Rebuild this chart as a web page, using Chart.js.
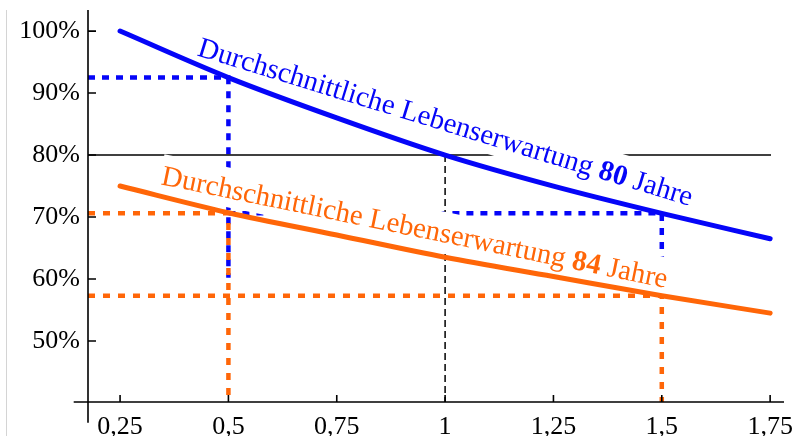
<!DOCTYPE html>
<html>
<head>
<meta charset="utf-8">
<script src="https://cdn.jsdelivr.net/npm/chart.js@4.4.1/dist/chart.umd.min.js"></script>
<style>
  html, body { margin: 0; padding: 0; background: #fff; }
  #wrap { position: relative; width: 795px; height: 436px; }
  #edge { position: absolute; left: 6px; top: 10px; width: 1px; height: 426px; background: #d4d4d4; }
</style>
</head>
<body>
<div id="wrap">
  <canvas id="chart" width="795" height="436"></canvas>
  <div id="edge"></div>
</div>
<script>
// values
const xValues = [0.25, 0.5, 0.75, 1, 1.25, 1.5, 1.75];
const blueValues = [100, 92.5, 86.0, 80, 75.0, 70.6, 66.5];
const orangeValues = [75, 70.7, 67.1, 63.5, 60.4, 57.3, 54.5];
const xTickValues = [0.25, 0.5, 0.75, 1, 1.25, 1.5, 1.75];
const xTickLabels = ["0,25", "0,5", "0,75", "1", "1,25", "1,5", "1,75"];
const yTickValues = [50, 60, 70, 80, 90, 100];

const xMin = 0.176, xMax = 1.782;
const yMin = 40.16, yMax = 103.4;

// guide lines (x, y pairs in data units)
const blueGuideA = [[xMin, 92.5], [0.5, 92.5], [0.5, 60.2]];
const blueGuideB = [[0.5, 70.6], [1.5, 70.6], [1.5, 63.4]];
const orangeGuideA = [[xMin, 70.6], [0.5, 70.6], [0.5, yMin]];
const orangeGuideB = [[xMin, 57.3], [1.5, 57.3], [1.5, yMin]];
const line80 = [[xMin, 80], [1.752, 80]];
const drop1 = [[1, 80], [1, yMin]];

const BLUE = "#0505f8";
const ORANGE = "#ff6608";

const labels = [
  { x: 0.426, y: 96.1, angle: 17.0, color: BLUE, parts: ["Durchschnittliche Lebenserwartung ", "80", " Jahre"] },
  { x: 0.343, y: 75.3, angle: 11.6, color: ORANGE, parts: ["Durchschnittliche Lebenserwartung ", "84", " Jahre"] }
];

function pts(arr) {
  return arr.map(p => ({ x: p[0], y: p[1] }));
}

function guide(arr, color, width, dash, order) {
  return {
    data: pts(arr),
    borderColor: color,
    borderWidth: width,
    borderDash: dash,
    pointRadius: 0,
    tension: 0,
    fill: false,
    order: order
  };
}

const FONT = "'Liberation Serif', 'Times New Roman', serif";

const axesPlugin = {
  id: "axes",
  beforeDatasetDraw(chart, args) {
    if (args.index !== 1) return;
    // text labels with white background, drawn below the curves
    const ctx = chart.ctx;
    const xs = chart.scales.x, ys = chart.scales.y;
    const size = 28.8;
    labels.forEach(l => {
      const px = xs.getPixelForValue(l.x);
      const py = ys.getPixelForValue(l.y);
      ctx.save();
      ctx.translate(px, py);
      ctx.rotate(l.angle * Math.PI / 180);
      const fonts = [size + "px " + FONT, "bold " + size + "px " + FONT, size + "px " + FONT];
      let widths = l.parts.map((t, i) => { ctx.font = fonts[i]; return ctx.measureText(t).width; });
      let total = widths.reduce((a, b) => a + b, 0);
      ctx.fillStyle = "#fff";
      ctx.fillRect(-2, -size * 1.05, total + 4, size * 1.37);
      ctx.fillStyle = l.color;
      ctx.textBaseline = "alphabetic";
      let cx = 0;
      l.parts.forEach((t, i) => {
        ctx.font = fonts[i];
        ctx.fillText(t, cx, 0);
        cx += widths[i];
      });
      ctx.restore();
    });
  },
  afterDraw(chart) {
    const ctx = chart.ctx;
    const xs = chart.scales.x, ys = chart.scales.y;
    const x0 = xs.getPixelForValue(xMin);
    const y0 = ys.getPixelForValue(yMin);
    ctx.save();
    ctx.strokeStyle = "#000";
    ctx.lineWidth = 1.6;
    ctx.beginPath();
    // x axis, a bit past the y axis on the left
    ctx.moveTo(xs.getPixelForValue(0.143), y0);
    ctx.lineTo(xs.getPixelForValue(xMax), y0);
    // y axis, a bit below the x axis
    ctx.moveTo(x0, ys.getPixelForValue(yMax));
    ctx.lineTo(x0, ys.getPixelForValue(36.8));
    // ticks pointing inward
    yTickValues.forEach(v => {
      const y = ys.getPixelForValue(v);
      ctx.moveTo(x0, y);
      ctx.lineTo(x0 + 8, y);
    });
    xTickValues.forEach(v => {
      const x = xs.getPixelForValue(v);
      ctx.moveTo(x, y0);
      ctx.lineTo(x, y0 - 7);
    });
    ctx.stroke();
    ctx.restore();
  }
};

const ctx = document.getElementById("chart").getContext("2d");

new Chart(ctx, {
  type: "line",
  data: {
    datasets: [
      {
        data: xValues.map((x, i) => ({ x: x, y: blueValues[i] })),
        borderColor: BLUE,
        borderWidth: 5,
        pointRadius: 0,
        cubicInterpolationMode: "monotone",
        borderCapStyle: "round",
        fill: false,
        order: 0
      },
      {
        data: xValues.map((x, i) => ({ x: x, y: orangeValues[i] })),
        borderColor: ORANGE,
        borderWidth: 5,
        pointRadius: 0,
        cubicInterpolationMode: "monotone",
        borderCapStyle: "round",
        fill: false,
        order: 0
      },
      guide(orangeGuideA, ORANGE, 4.5, [7, 8], 1),
      guide(orangeGuideB, ORANGE, 4.5, [7, 8], 1),
      guide(drop1, "#000", 1.5, [7, 4], 1),
      guide(line80, "#000", 1.5, [], 1),
      guide(blueGuideA, BLUE, 4.5, [7, 7], 1),
      guide(blueGuideB, BLUE, 4.5, [7, 7], 1)
    ]
  },
  options: {
    responsive: false,
    animation: false,
    events: [],
    layout: { padding: { top: 10, right: 11, left: 0, bottom: 0 } },
    plugins: {
      legend: { display: false },
      tooltip: { enabled: false }
    },
    scales: {
      x: {
        type: "linear",
        min: xMin,
        max: xMax,
        grid: { display: false, drawTicks: false },
        border: { display: false },
        afterBuildTicks: s => { s.ticks = xTickValues.map(v => ({ value: v })); },
        afterFit: s => { s.height = 34; s.paddingLeft = 0; s.paddingRight = 0; },
        ticks: {
          autoSkip: false,
          maxRotation: 0,
          padding: 10,
          color: "#000",
          font: { family: FONT, size: 26 },
          callback: (v, i) => xTickLabels[i]
        }
      },
      y: {
        type: "linear",
        min: yMin,
        max: yMax,
        grid: { display: false, drawTicks: false },
        border: { display: false },
        afterBuildTicks: s => { s.ticks = yTickValues.map(v => ({ value: v })); },
        afterFit: s => { s.width = 88; s.paddingTop = 0; s.paddingBottom = 0; },
        ticks: {
          padding: 8,
          color: "#000",
          font: { family: FONT, size: 26 },
          callback: v => v + "%"
        }
      }
    }
  },
  plugins: [axesPlugin]
});
</script>
</body>
</html>
